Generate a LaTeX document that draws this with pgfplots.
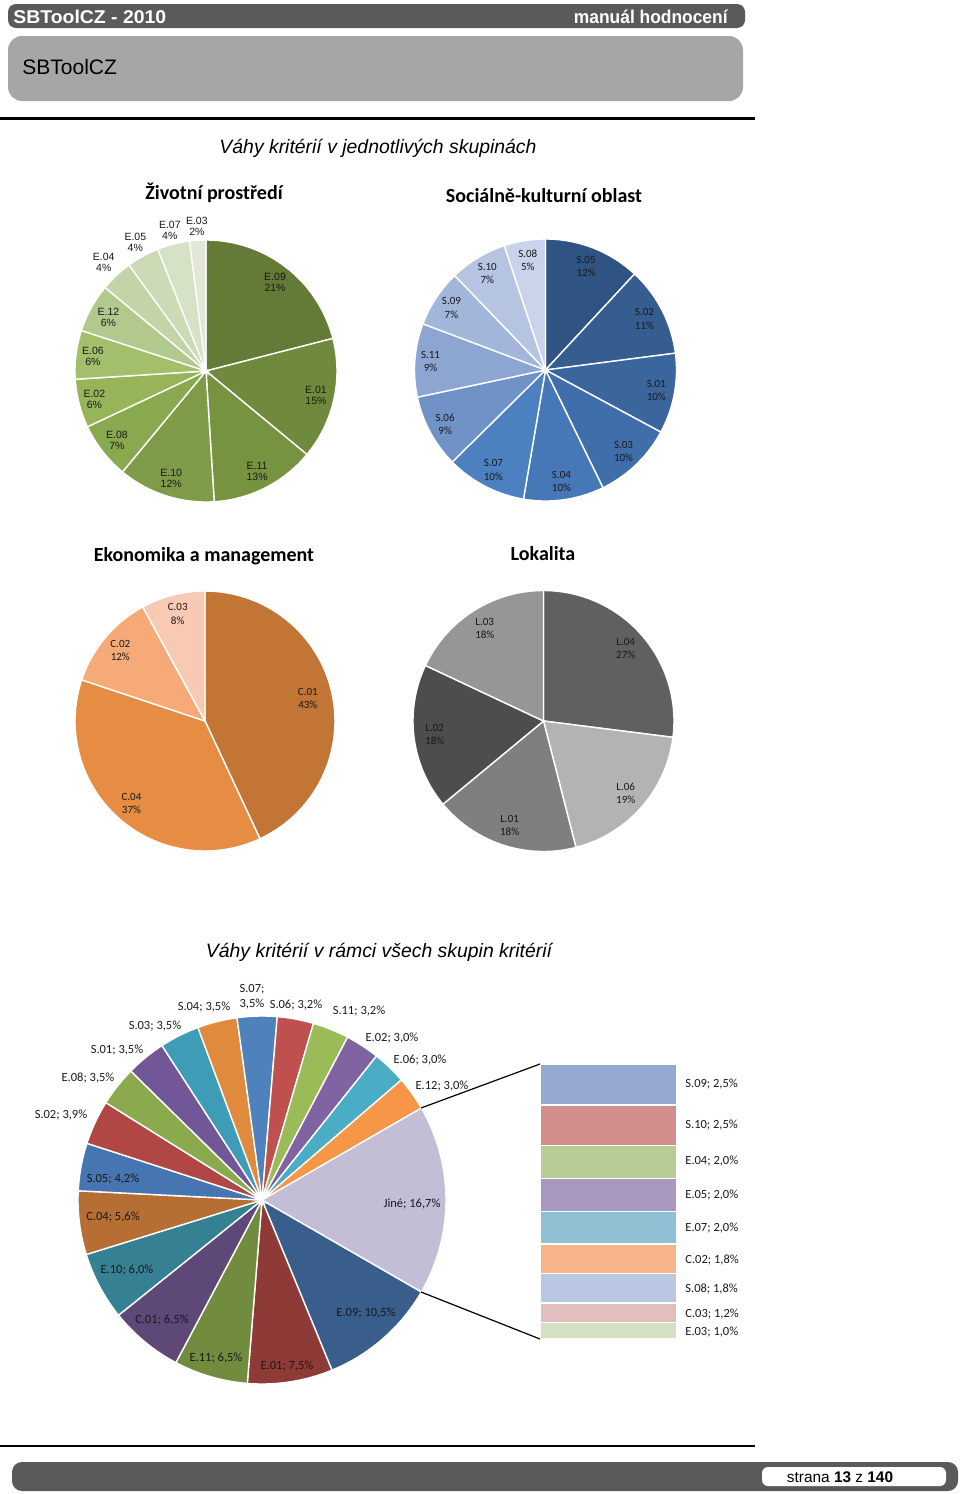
\documentclass[border=0pt]{standalone}
\usepackage{graphicx}
\usepackage{pgfplots}
\pgfplotsset{compat=1.18}
\usepackage{fontspec}
\setmainfont{Liberation Sans}
\newfontfamily\calibri{Carlito}

\definecolor{hdr}{HTML}{5A5A5A}
\definecolor{boxg}{HTML}{A6A6A6}
% pie 1 (E)
\definecolor{e09}{HTML}{637B36}\definecolor{e01}{HTML}{6F8A3D}\definecolor{e11}{HTML}{76933F}
\definecolor{e10}{HTML}{7E9C47}\definecolor{e08}{HTML}{88A94E}\definecolor{e02}{HTML}{95B558}
\definecolor{e06}{HTML}{A2BF6B}\definecolor{e12}{HTML}{B2C98D}\definecolor{e04}{HTML}{C3D5A7}
\definecolor{e05}{HTML}{CCDBB5}\definecolor{e07}{HTML}{D6E2C6}\definecolor{e03}{HTML}{E1E9D6}
% pie 2 (S)
\definecolor{s05}{HTML}{2F5382}\definecolor{s02}{HTML}{355D90}\definecolor{s01}{HTML}{3A659D}
\definecolor{s03}{HTML}{406EAA}\definecolor{s04}{HTML}{4677B6}\definecolor{s07}{HTML}{4C80C0}
\definecolor{s06}{HTML}{7092C7}\definecolor{s11}{HTML}{8CA6D1}\definecolor{s09}{HTML}{A2B6DA}
\definecolor{s10}{HTML}{B5C4E2}\definecolor{s08}{HTML}{C9D3EA}
% pie 3 (C)
\definecolor{c01}{HTML}{C27535}\definecolor{c04}{HTML}{E68C43}\definecolor{c02}{HTML}{F5AA78}\definecolor{c03}{HTML}{F8CAB3}
% pie 4 (L)
\definecolor{l04}{HTML}{606060}\definecolor{l06}{HTML}{B3B3B3}\definecolor{l01}{HTML}{7F7F7F}
\definecolor{l02}{HTML}{4D4D4D}\definecolor{l03}{HTML}{969696}
% bottom pie
\definecolor{bE09}{HTML}{395E8C}\definecolor{bE01}{HTML}{8E3A37}\definecolor{bE11}{HTML}{718C3F}
\definecolor{bC01}{HTML}{5D4878}\definecolor{bE10}{HTML}{358092}\definecolor{bC04}{HTML}{B76E32}
\definecolor{bS05}{HTML}{4675B2}\definecolor{bS02}{HTML}{B04744}\definecolor{bE08}{HTML}{8BAA4D}
\definecolor{bS01}{HTML}{715797}\definecolor{bS03}{HTML}{3E9CB6}\definecolor{bS04}{HTML}{E08A3E}
\definecolor{bS07}{HTML}{4F81BD}\definecolor{bS06}{HTML}{C0504D}\definecolor{bS11}{HTML}{9BBB59}
\definecolor{bE02}{HTML}{8064A2}\definecolor{bE06}{HTML}{4BACC6}\definecolor{bE12}{HTML}{F79646}
\definecolor{bJine}{HTML}{C3BED6}
% secondary bar
\definecolor{xS09}{HTML}{95A9D0}\definecolor{xS10}{HTML}{D38D8C}\definecolor{xE04}{HTML}{B8CD95}
\definecolor{xE05}{HTML}{A898BF}\definecolor{xE07}{HTML}{8FC0D4}\definecolor{xC02}{HTML}{F9B38A}
\definecolor{xS08}{HTML}{B9C7E2}\definecolor{xC03}{HTML}{E2BEBE}\definecolor{xE03}{HTML}{D3E0C3}

\newcommand\piecum{0}\newcommand\piestart{90}\newcommand\pietotal{100}
\newcommand\pieinit[2]{\gdef\piecum{0}\gdef\piestart{#1}\gdef\pietotal{#2}}
% value, colour, label, label radius
\newcommand\pieslice[4]{%
  \pgfmathsetmacro\pieA{\piestart-(\piecum/\pietotal)*360}%
  \pgfmathsetmacro\pieN{\piecum+#1}%
  \pgfmathsetmacro\pieB{\piestart-(\pieN/\pietotal)*360}%
  \pgfmathsetmacro\pieM{(\pieA+\pieB)/2}%
  \pgfmathsetmacro\pieLX{#4*cos(\pieM)}%
  \pgfmathsetmacro\pieLY{#4*sin(\pieM)}%
  \edef\pieact{%
    \noexpand\addplot[draw=white,line width=0.7pt,fill=#2,domain=\pieB:\pieA,samples=61,variable=\noexpand\t]
      ({cos(\noexpand\t)},{sin(\noexpand\t)}) -- (axis cs:0,0) -- cycle;
    \noexpand\node[pielabel] at (axis cs:\pieLX,\pieLY) {\unexpanded{#3}};
  }%
  \pieact
  \xdef\piecum{\pieN}%
}

\pgfplotsset{pieaxis/.style={scale only axis, hide axis, clip=false, anchor=center,
  xmin=-1,xmax=1,ymin=-1,ymax=1}}

\begin{document}
\begin{tikzpicture}
\begin{scope}[x=0.5pt,y=-0.5pt]
\useasboundingbox (0,0) rectangle (960,1494);
\fill[hdr,rounded corners=4pt] (8,4) rectangle (745,28);
\node[anchor=base west,text=white,font=\bfseries\fontsize{9.25pt}{11pt}\selectfont,inner sep=0pt] at (13,23.5) {\scalebox{1.05}[1]{SBToolCZ - 2010}};
\node[anchor=base east,text=white,font=\bfseries\fontsize{9.25pt}{11pt}\selectfont,inner sep=0pt] at (728,23.5) {\scalebox{0.94}[1]{manuál hodnocení}};
\fill[boxg,rounded corners=7pt] (8,36) rectangle (743,101);
\node[anchor=west,font=\fontsize{10.5pt}{12pt}\selectfont,inner sep=0pt] at (22,67) {SBToolCZ};
\draw[line width=1.5pt] (0,118) -- (755,118);
\node[font=\itshape\fontsize{9.7pt}{11pt}\selectfont] at (378,148) {Váhy kritérií v jednotlivých skupinách};
\node[font=\calibri\bfseries\fontsize{10pt}{12pt}\selectfont] at (214,193) {Životní prostředí};
\node[font=\calibri\bfseries\fontsize{10pt}{12pt}\selectfont] at (544,196) {Sociálně-kulturní oblast};
\node[font=\calibri\bfseries\fontsize{10pt}{12pt}\selectfont] at (204,556) {Ekonomika a management};
\node[font=\calibri\bfseries\fontsize{10pt}{12pt}\selectfont] at (543,554) {Lokalita};
\node[font=\itshape\fontsize{9.7pt}{11pt}\selectfont] at (379,952) {Váhy kritérií v rámci všech skupin kritérií};
\draw[line width=1pt] (0,1446) -- (755,1446);
\fill[hdr,rounded corners=5pt] (12,1462) rectangle (958,1491);
\fill[white,rounded corners=3pt] (762,1467) rectangle (946,1486);
\node[font=\fontsize{7.7pt}{9pt}\selectfont] at (840,1477) {strana \textbf{13} z \textbf{140}};
\end{scope}

% ---------- Životní prostředí ----------
\tikzset{pielabel/.style={font=\fontsize{5.25pt}{5.5pt}\selectfont, align=center, inner sep=0pt, text=black!90}}
\begin{axis}[pieaxis, at={(103pt,-185.5pt)}, width=131pt, height=131pt]
\pieinit{90}{100}
\pieslice{21}{e09}{E.09\\21\%}{0.86}
\pieslice{15}{e01}{E.01\\15\%}{0.86}
\pieslice{13}{e11}{E.11\\13\%}{0.86}
\pieslice{12}{e10}{E.10\\12\%}{0.86}
\pieslice{7}{e08}{E.08\\7\%}{0.86}
\pieslice{6}{e02}{E.02\\6\%}{0.88}
\pieslice{6}{e06}{E.06\\6\%}{0.87}
\pieslice{6}{e12}{E.12\\6\%}{0.85}
\pieslice{4}{e04}{E.04\\4\%}{1.14}
\pieslice{4}{e05}{E.05\\4\%}{1.12}
\pieslice{4}{e07}{E.07\\4\%}{1.11}
\pieslice{2}{e03}{E.03\\2\%}{1.11}
\end{axis}

% ---------- Sociálně-kulturní oblast ----------
\tikzset{pielabel/.style={font=\calibri\fontsize{5.5pt}{6.6pt}\selectfont, align=center, inner sep=0pt, text=black!90}}
\begin{axis}[pieaxis, at={(272.75pt,-185pt)}, width=131pt, height=131pt]
\pieinit{90}{35.3}
\pieslice{4.2}{s05}{S.05\\12\%}{0.85}
\pieslice{3.9}{s02}{S.02\\11\%}{0.85}
\pieslice{3.5}{s01}{S.01\\10\%}{0.86}
\pieslice{3.5}{s03}{S.03\\10\%}{0.86}
\pieslice{3.5}{s04}{S.04\\10\%}{0.86}
\pieslice{3.5}{s07}{S.07\\10\%}{0.86}
\pieslice{3.2}{s06}{S.06\\9\%}{0.87}
\pieslice{3.2}{s11}{S.11\\9\%}{0.88}
\pieslice{2.5}{s09}{S.09\\7\%}{0.86}
\pieslice{2.5}{s10}{S.10\\7\%}{0.86}
\pieslice{1.8}{s08}{S.08\\5\%}{0.85}
\end{axis}

% ---------- Ekonomika a management ----------
\begin{axis}[pieaxis, at={(102.5pt,-360.5pt)}, width=130pt, height=130pt]
\pieinit{90}{15.1}
\pieslice{6.5}{c01}{C.01\\43\%}{0.81}
\pieslice{5.6}{c04}{C.04\\37\%}{0.85}
\pieslice{1.8}{c02}{C.02\\12\%}{0.85}
\pieslice{1.2}{c03}{C.03\\8\%}{0.85}
\end{axis}

% ---------- Lokalita ----------
\begin{axis}[pieaxis, at={(271.75pt,-360.5pt)}, width=130.5pt, height=130.5pt]
\pieinit{90}{100}
\pieslice{27}{l04}{L.04\\27\%}{0.84}
\pieslice{19}{l06}{L.06\\19\%}{0.84}
\pieslice{18}{l01}{L.01\\18\%}{0.84}
\pieslice{18}{l02}{L.02\\18\%}{0.84}
\pieslice{18}{l03}{L.03\\18\%}{0.84}
\end{axis}

% ---------- Váhy kritérií v rámci všech skupin ----------
\begin{axis}[pieaxis, at={(131pt,-600pt)}, width=184pt, height=184pt]
\pieinit{-29.97}{100.3}
\pieslice{10.5}{bE09}{}{0}
\pieslice{7.5}{bE01}{}{0}
\pieslice{6.5}{bE11}{}{0}
\pieslice{6.5}{bC01}{}{0}
\pieslice{6.0}{bE10}{}{0}
\pieslice{5.6}{bC04}{}{0}
\pieslice{4.2}{bS05}{}{0}
\pieslice{3.9}{bS02}{}{0}
\pieslice{3.5}{bE08}{}{0}
\pieslice{3.5}{bS01}{}{0}
\pieslice{3.5}{bS03}{}{0}
\pieslice{3.5}{bS04}{}{0}
\pieslice{3.5}{bS07}{}{0}
\pieslice{3.2}{bS06}{}{0}
\pieslice{3.2}{bS11}{}{0}
\pieslice{3.0}{bE02}{}{0}
\pieslice{3.0}{bE06}{}{0}
\pieslice{3.0}{bE12}{}{0}
\pieslice{16.7}{bJine}{}{0}
\end{axis}

% ---------- secondary stacked bar (Jiné) ----------
\begin{axis}[at={(270pt,-532pt)}, anchor=north west, scale only axis, width=68.5pt, height=137.5pt,
  hide axis, clip=false, xmin=-0.5, xmax=0.5, ymin=0, ymax=16.8, ybar stacked, bar width=68.5pt]
\addplot[fill=xE03,draw=white,line width=0.6pt] coordinates {(0,1.0)};
\addplot[fill=xC03,draw=white,line width=0.6pt] coordinates {(0,1.2)};
\addplot[fill=xS08,draw=white,line width=0.6pt] coordinates {(0,1.8)};
\addplot[fill=xC02,draw=white,line width=0.6pt] coordinates {(0,1.8)};
\addplot[fill=xE07,draw=white,line width=0.6pt] coordinates {(0,2.0)};
\addplot[fill=xE05,draw=white,line width=0.6pt] coordinates {(0,2.0)};
\addplot[fill=xE04,draw=white,line width=0.6pt] coordinates {(0,2.0)};
\addplot[fill=xS10,draw=white,line width=0.6pt] coordinates {(0,2.5)};
\addplot[fill=xS09,draw=white,line width=0.6pt] coordinates {(0,2.5)};
\end{axis}

\begin{scope}[x=0.5pt,y=-0.5pt, every node/.style={font=\calibri\fontsize{6.25pt}{7.5pt}\selectfont, inner sep=0pt, text=black!90}]
\draw[line width=0.6pt] (421,1108) -- (540,1064);
\draw[line width=0.6pt] (421,1292) -- (540,1339);
\node[align=center] at (252,997) {S.07;\\3,5\%};
\node at (296,1005) {S.06; 3,2\%};
\node at (204,1007) {S.04; 3,5\%};
\node at (359,1011) {S.11; 3,2\%};
\node at (155,1026) {S.03; 3,5\%};
\node at (392,1038) {E.02; 3,0\%};
\node at (117,1050) {S.01; 3,5\%};
\node at (420,1060) {E.06; 3,0\%};
\node at (88,1078) {E.08; 3,5\%};
\node at (442,1086) {E.12; 3,0\%};
\node at (61,1115) {S.02; 3,9\%};
\node at (113,1179) {S.05; 4,2\%};
\node at (113,1217) {C.04; 5,6\%};
\node at (127,1270) {E.10; 6,0\%};
\node at (162,1320) {C.01; 6,5\%};
\node at (216,1358) {E.11; 6,5\%};
\node at (287,1366) {E.01; 7,5\%};
\node at (366,1313) {E.09; 10,5\%};
\node at (412,1204) {Jiné; 16,7\%};
\node[anchor=west] at (685,1084) {S.09; 2,5\%};
\node[anchor=west] at (685,1125) {S.10; 2,5\%};
\node[anchor=west] at (685,1161) {E.04; 2,0\%};
\node[anchor=west] at (685,1195) {E.05; 2,0\%};
\node[anchor=west] at (685,1228) {E.07; 2,0\%};
\node[anchor=west] at (685,1260) {C.02; 1,8\%};
\node[anchor=west] at (685,1289) {S.08; 1,8\%};
\node[anchor=west] at (685,1314) {C.03; 1,2\%};
\node[anchor=west] at (685,1332) {E.03; 1,0\%};
\end{scope}
\end{tikzpicture}
\end{document}
